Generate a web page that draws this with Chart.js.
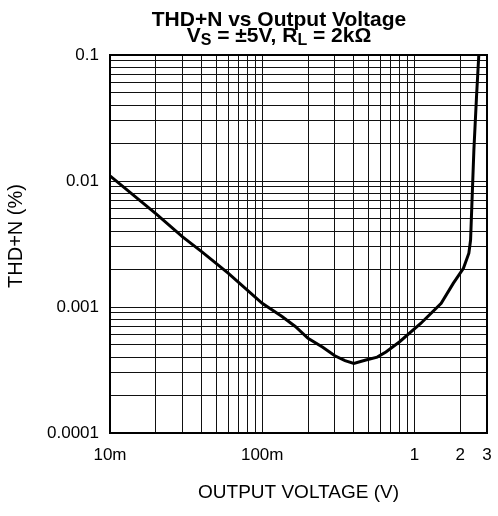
<!DOCTYPE html>
<html>
<head>
<meta charset="utf-8">
<script src="https://cdn.jsdelivr.net/npm/chart.js@4.4.1/dist/chart.umd.min.js"></script>
<style>
  html, body { margin: 0; padding: 0; background: #fff; }
  #wrap { position: relative; width: 498px; height: 516px; }
  #chart { position: absolute; left: 0; top: 0; }
  #title {
    position: absolute; left: 79px; top: 11px; width: 400px;
    text-align: center; font: bold 21px "Liberation Sans", Arial, sans-serif;
    line-height: 16px; color: #000; white-space: nowrap;
  }
  #title .sub { position: relative; top: 3px; font-size: 16px; line-height: 0; }
</style>
</head>
<body>
<div id="wrap">
  <canvas id="chart" width="498" height="516"></canvas>
  <div id="title">THD+N vs Output Voltage<br>V<span class="sub">S</span> = ±5V, R<span class="sub">L</span> = 2kΩ</div>
</div>
<script>
// curve (output voltage in V, THD+N in %)
const voltage = [0.01, 0.02, 0.03, 0.04, 0.06, 0.1, 0.135, 0.165, 0.2, 0.25, 0.3, 0.35, 0.4,
  0.48, 0.57, 0.65, 0.8, 1.1, 1.5, 1.8, 2.1, 2.28, 2.34, 2.46, 2.56, 2.65];
const thdn = [0.011, 0.0055, 0.0036, 0.00275, 0.00185, 0.00107, 0.00084, 0.0007, 0.000565, 0.00048,
  0.00041, 0.000375, 0.000357, 0.00038, 0.0004, 0.00044, 0.00053, 0.00074, 0.00107, 0.00154,
  0.00203, 0.00267, 0.0034, 0.0176, 0.0467, 0.1];

// axes
const xDecades = [0.01, 0.1];
const xExtra = [1, 2, 3];
const yDecades = [0.0001, 0.001, 0.01];
const yTop = 0.1;
const minorSteps = [1, 2, 3, 4, 5, 6, 7, 8, 9];
const xLabelValues = [0.01, 0.1, 1, 2, 3];
const xLabels = ['10m', '100m', '1', '2', '3'];
const yLabelValues = [0.0001, 0.001, 0.01, 0.1];
const yLabels = ['0.0001', '0.001', '0.01', '0.1'];
const yTitle = 'THD+N (%)';

const xGrid = [];
xDecades.forEach(d => minorSteps.forEach(m => xGrid.push(+(d * m).toPrecision(3))));
xExtra.forEach(v => xGrid.push(v));
const yGrid = [];
yDecades.forEach(d => minorSteps.forEach(m => yGrid.push(+(d * m).toPrecision(3))));
yGrid.push(yTop);

function labelFor(value, vals, labels) {
  const i = vals.findIndex(v => Math.abs(v - value) / v < 1e-6);
  return i < 0 ? '' : labels[i];
}

Chart.defaults.font.family = '"Liberation Sans", Arial, sans-serif';
Chart.defaults.color = '#000';

// heavier box round the plot area
const frame = {
  id: 'frame',
  beforeDatasetsDraw(chart) {
    const { ctx, chartArea: a } = chart;
    ctx.save();
    ctx.strokeStyle = '#000';
    ctx.lineWidth = 2;
    ctx.strokeRect(a.left, a.top, a.right - a.left, a.bottom - a.top);
    ctx.restore();
  }
};

// y title sits a little above the axis middle in the original
const sideTitle = {
  id: 'sideTitle',
  afterDraw(chart) {
    const { ctx, chartArea: a } = chart;
    ctx.save();
    ctx.translate(16, (a.top + a.bottom) / 2 - 8);
    ctx.rotate(-Math.PI / 2);
    ctx.font = '20px "Liberation Sans", Arial, sans-serif';
    ctx.fillStyle = '#000';
    ctx.textAlign = 'center';
    ctx.textBaseline = 'middle';
    ctx.fillText(yTitle, 0, 0);
    ctx.restore();
  }
};

new Chart(document.getElementById('chart'), {
  type: 'line',
  data: {
    datasets: [{
      data: voltage.map((v, i) => ({ x: v, y: thdn[i] })),
      borderColor: '#000',
      borderWidth: 3,
      pointRadius: 0,
      tension: 0,
      fill: false
    }]
  },
  options: {
    responsive: false,
    animation: false,
    layout: { padding: { top: 55, right: 11, bottom: 0, left: 0 } },
    plugins: { legend: { display: false }, tooltip: { enabled: false } },
    scales: {
      x: {
        type: 'logarithmic',
        min: 0.01,
        max: 3,
        afterBuildTicks: s => { s.ticks = xGrid.map(v => ({ value: v })); },
        afterFit: s => { s.height = 83; s.paddingLeft = 0; s.paddingRight = 0; },
        grid: { color: '#111', lineWidth: 1, drawTicks: false },
        border: { display: false },
        ticks: {
          autoSkip: false, maxRotation: 0, minRotation: 0, padding: 12,
          font: { size: 17 },
          callback: v => labelFor(v, xLabelValues, xLabels)
        },
        title: {
          display: true, text: 'OUTPUT VOLTAGE (V)',
          font: { size: 19 }, padding: { top: 0, bottom: 12 }
        }
      },
      y: {
        type: 'logarithmic',
        min: 0.0001,
        max: 0.1,
        afterBuildTicks: s => { s.ticks = yGrid.map(v => ({ value: v })); },
        afterFit: s => { s.width = 110; s.paddingTop = 0; s.paddingBottom = 0; },
        grid: { color: '#111', lineWidth: 1, drawTicks: false },
        border: { display: false },
        ticks: {
          autoSkip: false, padding: 11,
          font: { size: 17 },
          callback: v => labelFor(v, yLabelValues, yLabels)
        },
        title: { display: false }
      }
    }
  },
  plugins: [frame, sideTitle]
});
</script>
</body>
</html>
